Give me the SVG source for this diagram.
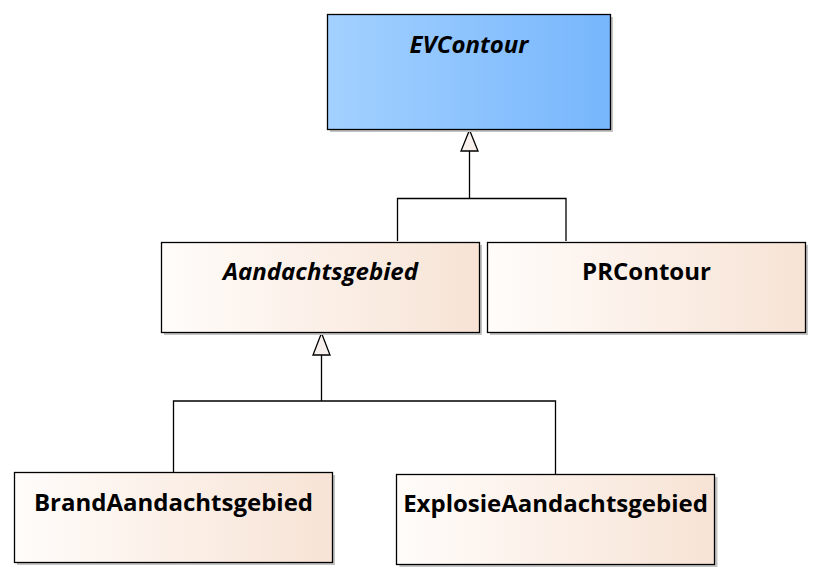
<svg xmlns="http://www.w3.org/2000/svg" width="823" height="581" viewBox="0 0 823 581">
<defs>
<linearGradient id="gBlue" x1="0" y1="0" x2="1" y2="0">
<stop offset="0" stop-color="#A3D1FF"/>
<stop offset="1" stop-color="#77B6FC"/>
</linearGradient>
<linearGradient id="gBeige" x1="0" y1="0" x2="1" y2="0">
<stop offset="0" stop-color="#FFFCFA"/>
<stop offset="1" stop-color="#F7E3D5"/>
</linearGradient>
</defs>
<style>
.shadow{fill:#C4C4C4;}
.box{stroke:#000;stroke-width:1.3;}
.label{font-family:"Open Sans","Noto Sans","Liberation Sans",sans-serif;font-weight:bold;font-size:24px;fill:#000;text-anchor:middle;}
.abstract{font-style:italic;}
.conn{fill:none;stroke:#000;stroke-width:1.3;}
.head{fill:#F8F0EC;stroke:#000;stroke-width:1.3;}
</style>
<g id="connectors">
<polyline class="conn" points="397.5,241 397.5,198.5 566,198.5 566,241"/>
<line class="conn" x1="469.5" y1="151" x2="469.5" y2="198.5"/>
<polygon class="head" points="469.5,130 478,151 461,151"/>
<polyline class="conn" points="173.5,472 173.5,401 555.5,401 555.5,474"/>
<line class="conn" x1="321.5" y1="355" x2="321.5" y2="401"/>
<polygon class="head" points="321.5,333 330,355 313,355"/>
</g>
<g id="EVContour">
<rect class="shadow" x="330" y="17" width="283" height="115"/>
<rect class="box" x="327.5" y="14.5" width="283" height="115" fill="url(#gBlue)"/>
<text class="label abstract" x="469" y="52.5">EVContour</text>
</g>
<g id="Aandachtsgebied">
<rect class="shadow" x="164" y="245" width="318" height="90"/>
<rect class="box" x="161.5" y="242.5" width="318" height="90" fill="url(#gBeige)"/>
<text class="label abstract" x="320.5" y="280">Aandachtsgebied</text>
</g>
<g id="PRContour">
<rect class="shadow" x="490" y="245" width="318" height="90"/>
<rect class="box" x="487.5" y="242.5" width="318" height="90" fill="url(#gBeige)"/>
<text class="label" x="646.5" y="279.5">PRContour</text>
</g>
<g id="BrandAandachtsgebied">
<rect class="shadow" x="17" y="475" width="318" height="90"/>
<rect class="box" x="14.5" y="472.5" width="318" height="90" fill="url(#gBeige)"/>
<text class="label" x="173.5" y="511">BrandAandachtsgebied</text>
</g>
<g id="ExplosieAandachtsgebied">
<rect class="shadow" x="399.5" y="477" width="318" height="90"/>
<rect class="box" x="396.5" y="474.5" width="318" height="90" fill="url(#gBeige)"/>
<text class="label" x="555.5" y="512">ExplosieAandachtsgebied</text>
</g>
</svg>
